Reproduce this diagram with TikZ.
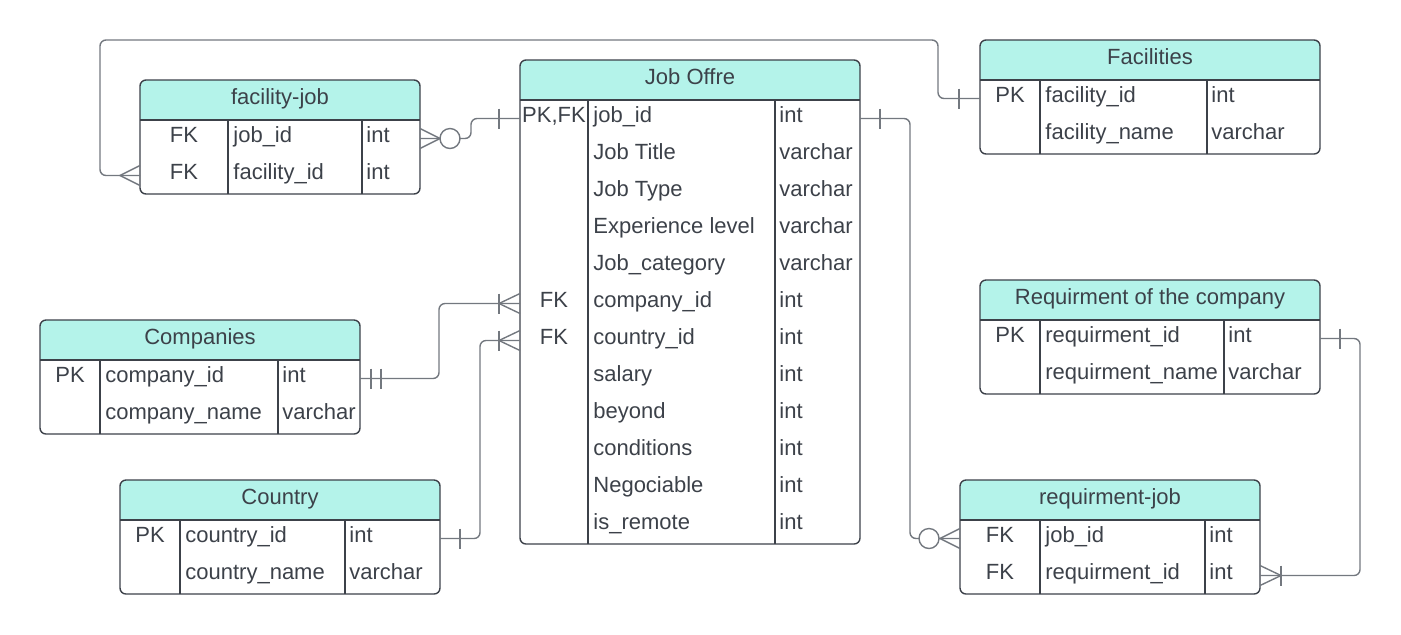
\documentclass[tikz,border=0pt]{standalone}
\usepackage{fontspec}
\setmainfont{Liberation Sans}
\usepackage{tikz}
\usetikzlibrary{calc}
\definecolor{hdrteal}{RGB}{180,243,234}
\definecolor{inkgray}{RGB}{60,65,73}
\definecolor{relgray}{RGB}{115,120,127}
\tikzstyle{tblline} = [draw=inkgray, line width=0.7pt]
\tikzstyle{cardline} = [draw=relgray, line width=0.7pt]
\tikzstyle{link} = [cardline, rounded corners=3pt]
\tikzstyle{cell} = [inner sep=0pt, text=inkgray, font=\fontsize{11}{13}\selectfont]

% #1 name, #2 left, #3 top, #4 width, #5 first col, #6 second col,
% #7 title, #8 number of rows, #9 rows key/field/type
\newcommand{\erdtable}[9]{%
  \fill[hdrteal, rounded corners=3pt] (#2,#3) rectangle (#2+#4,#3+40);
  \fill[hdrteal] (#2,#3+30) rectangle (#2+#4,#3+40);
  \draw[tblline, rounded corners=3pt] (#2,#3) rectangle (#2+#4,#3+40+#8*37);
  \draw[tblline] (#2,#3+40) -- ++(#4,0);
  \draw[tblline] (#2+#5,#3+40) -- (#2+#5,#3+40+#8*37);
  \draw[tblline] (#2+#6,#3+40) -- (#2+#6,#3+40+#8*37);
  \node[cell, anchor=base] (#1) at (#2+#4/2,#3+24) {#7};
  \foreach \ky/\fd/\tp [count=\i] in {#9} {
    \pgfmathsetmacro\ry{#3+40+(\i-0.5)*37}
    \coordinate (#1-w\i) at (#2,\ry);
    \coordinate (#1-e\i) at (#2+#4,\ry);
    \node[cell, anchor=base] (#1-k\i) at (#2+#5/2,\ry+4) {\ky};
    \node[cell, anchor=base west] (#1-f\i) at (#2+#5+5,\ry+4) {\fd};
    \node[cell, anchor=base west] (#1-t\i) at (#2+#6+4,\ry+4) {\tp};
  }
}
\newcommand{\onemark}[2]{\draw[cardline] ($(#1)+(#2,-10)$) -- ($(#1)+(#2,10)$);}
\newcommand{\crowfoot}[2]{\draw[cardline] ($(#1)+(0,-10)$) -- ($(#1)+(#2,0)$) -- ($(#1)+(0,10)$);}
\newcommand{\ringmark}[2]{\draw[cardline, fill=white] ($(#1)+(#2,0)$) circle[radius=5pt];}

\begin{document}
\begin{tikzpicture}[x=0.5pt, y=-0.5pt]
\useasboundingbox (0,0) rectangle (1401,634);

% tables
\erdtable{fj}{140}{80}{280}{88}{222}{facility-job}{2}{FK/job\_id/int, FK/facility\_id/int}
\erdtable{job}{520}{60}{340}{68}{255}{Job Offre}{12}{{PK,FK}/job\_id/int, {}/Job Title/varchar, {}/Job Type/varchar, {}/Experience level/varchar, {}/Job\_category/varchar, FK/company\_id/int, FK/country\_id/int, {}/salary/int, {}/beyond/int, {}/conditions/int, {}/Negociable/int, {}/is\_remote/int}
\erdtable{fac}{980}{40}{340}{60}{227}{Facilities}{2}{PK/facility\_id/int, {}/facility\_name/varchar}
\erdtable{req}{980}{280}{340}{60}{244}{Requirment of the company}{2}{PK/requirment\_id/int, {}/requirment\_name/varchar}
\erdtable{rj}{960}{480}{300}{80}{245}{requirment-job}{2}{FK/job\_id/int, FK/requirment\_id/int}
\erdtable{comp}{40}{320}{320}{60}{238}{Companies}{2}{PK/company\_id/int, {}/company\_name/varchar}
\erdtable{ctry}{120}{480}{320}{60}{225}{Country}{2}{PK/country\_id/int, {}/country\_name/varchar}

% relations
\draw[link] (job-w1) -- ++(-49,0) |- (fj-e1);
\onemark{job-w1}{-21}
\crowfoot{fj-e1}{20}
\ringmark{fj-e1}{30}

\draw[link] (fj-w2) -- ++(-40,0) |- ($(fac-w1)+(-42,-58.5)$) |- (fac-w1);
\crowfoot{fj-w2}{-20}
\onemark{fac-w1}{-21}

\draw[link] (comp-e1) -- ++(79,0) |- (job-w6);
\onemark{comp-e1}{11}
\onemark{comp-e1}{21}
\crowfoot{job-w6}{-21}
\onemark{job-w6}{-21}

\draw[link] (ctry-e1) -- ++(40,0) |- (job-w7);
\onemark{ctry-e1}{20}
\crowfoot{job-w7}{-21}
\onemark{job-w7}{-21}

\draw[link] (job-e1) -- ++(50,0) |- (rj-w1);
\onemark{job-e1}{20}
\crowfoot{rj-w1}{-20}
\ringmark{rj-w1}{-31}

\draw[link] (req-e1) -- ++(40,0) |- (rj-e2);
\onemark{req-e1}{20}
\crowfoot{rj-e2}{21}
\onemark{rj-e2}{21}
\end{tikzpicture}
\end{document}
